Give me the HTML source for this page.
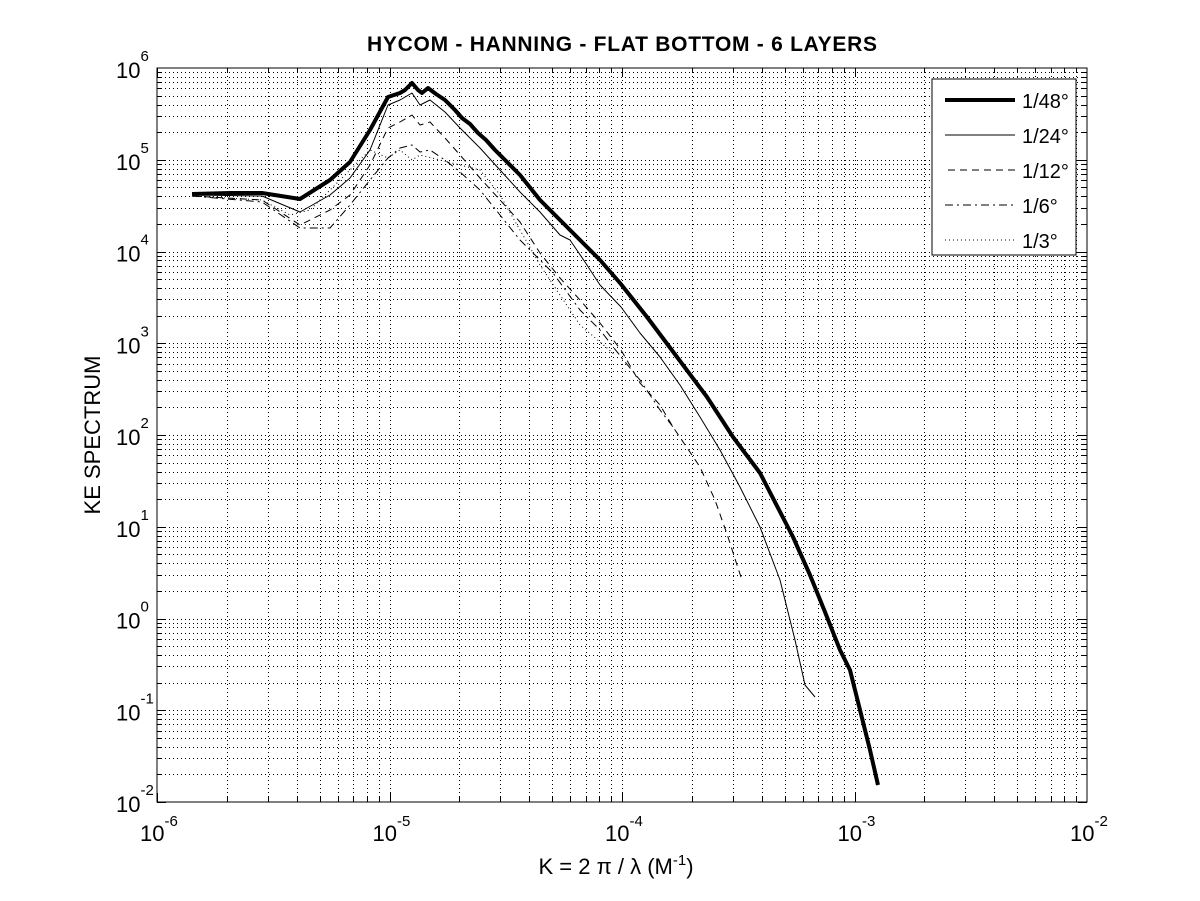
<!DOCTYPE html>
<html><head><meta charset="utf-8"><style>body{margin:0;background:#fff}svg{display:block}text{font-family:"Liberation Sans",sans-serif;fill:#000}</style></head>
<body>
<svg id="s" width="1200" height="901" xmlns="http://www.w3.org/2000/svg">
<rect width="1200" height="901" fill="#fff"/>
<g id="grid" stroke="#000" stroke-width="1" stroke-dasharray="1,3" shape-rendering="crispEdges"></g>
<g id="ticks" stroke="#000" stroke-width="1" shape-rendering="crispEdges"></g>
<rect x="157" y="68" width="930" height="734" fill="none" stroke="#000" stroke-width="1" shape-rendering="crispEdges"/>
<g fill="none" stroke="#000" stroke-linejoin="round">
<polyline stroke-width="1" stroke-dasharray="1,3" points="192,196 262,200 290,215 310,210 330,190 350,170 370,150 388,158 400,150 412,160 420,155 440,160 460,165 480,170 500,195 520,230 540,265 560,295 580,325 600,342 615,355"/>
<polyline stroke-width="1" stroke-dasharray="8,4,2,4" points="192,196 262,202 300,228 330,228 350,205 370,180 388,158 400,148 412,145 420,152 430,150 445,160 460,172 480,190 500,215 520,240 540,260 553,273 580,310 600,330 621,357 640,380 660,410 673,427"/>
<polyline stroke-width="1" stroke-dasharray="7,5" points="192,196 262,200 300,225 330,210 350,195 370,165 388,128 400,122 412,115 420,125 430,122 445,138 460,155 480,178 500,200 520,222 540,253 560,278 580,300 600,323 621,350 640,383 660,405 673,427 700,467 715,500 728,537 737,565 742,580"/>
<polyline stroke-width="1" points="192,195 262,196 300,212 330,195 350,178 370,150 388,105 400,100 412,93 420,105 430,100 445,112 460,128 480,148 500,170 520,192 540,212 560,235 570,240 585,262 600,285 621,307 640,333 660,357 680,385 700,417 720,450 740,487 760,527 780,580 795,640 805,685 815,697"/>
<polyline stroke-width="4" points="192,194 230,193 262,193 300,199 330,180 350,162 370,130 388,97 400,93 405,90 412,83 418,90 422,93 428,88 436,94 445,100 455,110 462,118 470,124 478,133 486,140 495,150 505,160 520,175 540,200 560,220 580,240 600,260 620,283 647,317 677,357 707,397 733,437 760,473 793,537 810,575 825,612 840,650 850,670 860,710 870,750 878,785"/>
</g>
<rect x="932" y="79" width="144" height="176" fill="#fff" stroke="#000" stroke-width="1" shape-rendering="crispEdges"/>
<g stroke="#000" fill="none">
<line x1="945" y1="100" x2="1015" y2="100" stroke-width="4"/>
<line x1="945" y1="135" x2="1015" y2="135" stroke-width="1"/>
<line x1="948" y1="170" x2="1015" y2="170" stroke-dasharray="7,5"/>
<line x1="945" y1="205" x2="1015" y2="205" stroke-dasharray="8,4,2,4"/>
<line x1="945" y1="240" x2="1015" y2="240" stroke-dasharray="1,3"/>
</g>
<g font-size="20"><text x="1022" y="108">1/48°</text><text x="1022" y="143">1/24°</text><text x="1022" y="178">1/12°</text><text x="1022" y="213">1/6°</text><text x="1022" y="248">1/3°</text></g>
<text x="622" y="51" font-size="21" font-weight="bold" text-anchor="middle" textLength="510">HYCOM - HANNING - FLAT BOTTOM - 6 LAYERS</text>
<g id="lab" font-size="22"></g>
<text x="616" y="874" font-size="22" text-anchor="middle">K = 2 π / λ  (M<tspan font-size="15" dy="-9">-1</tspan><tspan dy="9">)</tspan></text>
<text transform="translate(100,435) rotate(-90)" font-size="22" text-anchor="middle">KE SPECTRUM</text>
</svg>
<script>
var ns="http://www.w3.org/2000/svg",g=document.getElementById('grid'),t=document.getElementById('ticks'),l=document.getElementById('lab');
function L(p,a){var e=document.createElementNS(ns,'line');for(var k in a)e.setAttribute(k,a[k]);p.appendChild(e);}
function X(e){return 157+232.5*(e+6);}function Y(e){return 68+91.75*(6-e);}
for(var d=-6;d<-2;d++)for(var m=1;m<10;m++){var x=Math.round(X(d+Math.log10(m)))+.5;if(m>1||d>-6){L(g,{x1:x,y1:68,x2:x,y2:802});}L(t,{x1:x,y1:802,x2:x,y2:m==1?793:797});L(t,{x1:x,y1:68,x2:x,y2:m==1?77:73});}
for(var d=-2;d<6;d++)for(var m=1;m<10;m++){var y=Math.round(Y(d+Math.log10(m)))+.5;if(m>1||d>-2){L(g,{x1:157,y1:y,x2:1087,y2:y});}L(t,{x1:157,y1:y,x2:m==1?166:162,y2:y});L(t,{x1:1087,y1:y,x2:m==1?1078:1082,y2:y});}
function T(x,y,s,sup,dy){var e=document.createElementNS(ns,'text');e.setAttribute('x',x);e.setAttribute('y',y);e.textContent=s;var p=document.createElementNS(ns,'tspan');p.setAttribute('font-size','15');p.setAttribute('dy',dy);p.textContent=sup;e.appendChild(p);l.appendChild(e);}
for(var d=-6;d<=-2;d++)T(X(d)-17,841,'10',d,-15);
for(var d=-2;d<=6;d++)T(116,Y(d)+10,'10',d,-17);
</script>
</body></html>
